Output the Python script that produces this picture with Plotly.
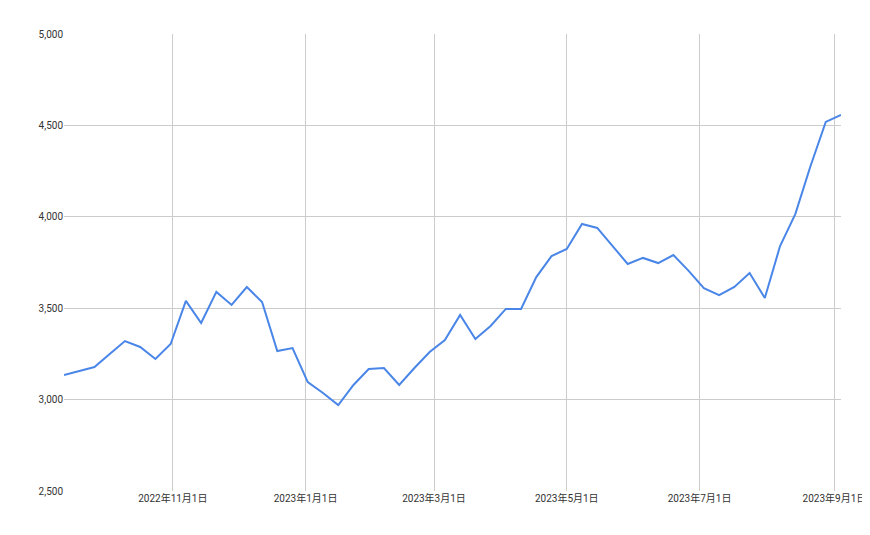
import plotly.graph_objects as go
import pandas as pd

start = "2022-09-12"
values = [3135,3157,3178,3250,3320,3288,3222,3304,3540,3419,3589,3518,3616,3534,3266,3282,
          3096,3036,2970,3080,3167,3173,3080,3173,3260,3326,3463,3331,3403,3496,3496,3670,
          3785,3824,3961,3939,3840,3742,3775,3747,3791,3704,3610,3572,3616,3692,3556,3840,
          4015,4278,4519,4557]
dates = pd.date_range(start, periods=len(values), freq="7D")
tick_dates = ["2022-11-01","2023-01-01","2023-03-01","2023-05-01","2023-07-01","2023-09-01"]
tick_labels = ["2022年11月1日","2023年1月1日","2023年3月1日","2023年5月1日","2023年7月1日","2023年9月1日"]
y_ticks = [2500,3000,3500,4000,4500,5000]

fig = go.Figure(go.Scatter(x=dates, y=values, mode="lines",
                           line=dict(color="#4a86e8", width=2)))
fig.update_layout(
    width=870, height=535, plot_bgcolor="white", paper_bgcolor="white",
    margin=dict(l=56, r=34, t=26, b=52), showlegend=False,
    font=dict(family="Roboto, Noto Sans CJK JP", size=10, color="#333"),
)
fig.update_xaxes(range=[dates[0], dates[-1]], tickvals=tick_dates, ticktext=tick_labels,
                 showgrid=True, gridcolor="#cccccc", zeroline=False, showline=False, ticks="")
fig.update_yaxes(range=[2500, 5000], tickvals=y_ticks, tickformat=",",
                 showgrid=True, gridcolor="#cccccc", zeroline=False, ticks="")
fig.write_html("out.html")
